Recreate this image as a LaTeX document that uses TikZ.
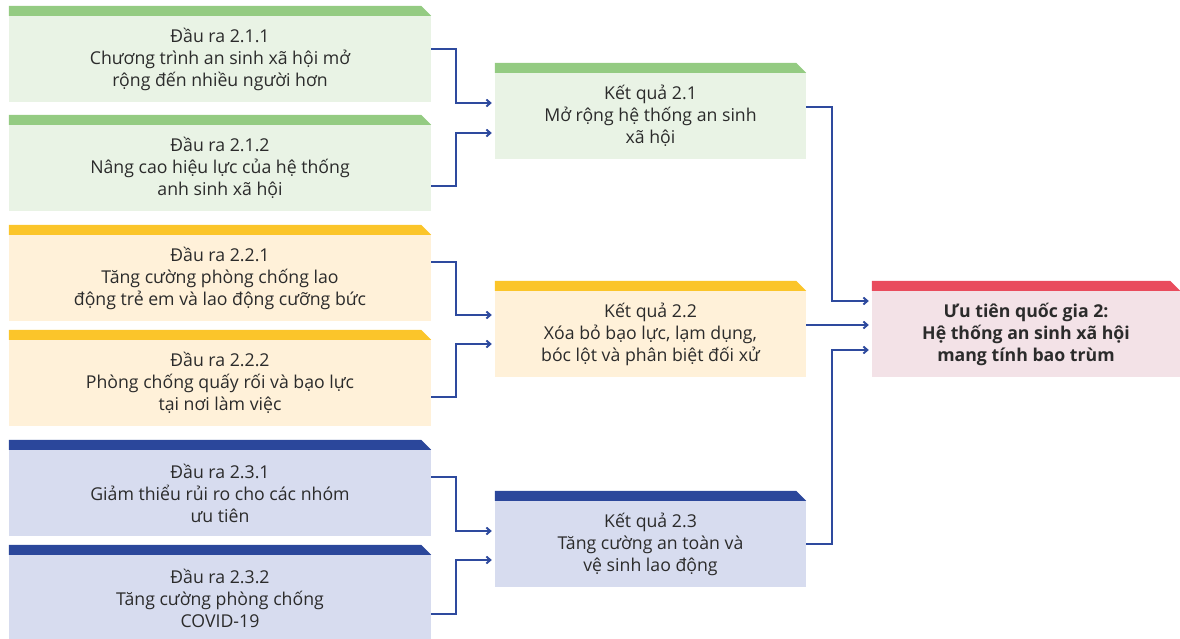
\documentclass[tikz,border=0pt]{standalone}
\usepackage{fontspec}
\setmainfont{Open Sans}
\usetikzlibrary{arrows.meta}

\definecolor{grnbar}{HTML}{94CB82}
\definecolor{grnbody}{HTML}{E9F3E5}
\definecolor{ylwbar}{HTML}{FBC52A}
\definecolor{ylwbody}{HTML}{FFF1D9}
\definecolor{blubar}{HTML}{2B479B}
\definecolor{blubody}{HTML}{D7DCEF}
\definecolor{redbar}{HTML}{E94C5D}
\definecolor{redbody}{HTML}{F3E2E7}
\definecolor{linkblue}{HTML}{2E4A9E}
\definecolor{txtgray}{HTML}{2B2B2B}

\tikzset{
 card/.style={fill=#1, inner sep=0pt, align=center, minimum height=86pt,
   font=\fontsize{17.7}{22}\selectfont, text=txtgray},
 outcard/.style={card=#1, minimum width=422pt},
 rescard/.style={card=#1, minimum width=311pt},
 link/.style={draw=linkblue, line width=1.9pt, -{Straight Barb[length=4pt,width=7pt]}, shorten >=3pt}
}

\begin{document}
\begin{tikzpicture}[x=1pt, y=-1pt]
\useasboundingbox (0,0) rectangle (1180,639);
% dau ra
\node[outcard=grnbody] (o211) at (220,59) {Đầu ra 2.1.1\\Chương trình an sinh xã hội mở\\rộng đến nhiều người hơn};
\node[outcard=grnbody] (o212) at (220,168) {Đầu ra 2.1.2\\Nâng cao hiệu lực của hệ thống\\anh sinh xã hội};
\node[outcard=ylwbody] (o221) at (220,278) {Đầu ra 2.2.1\\Tăng cường phòng chống lao\\động trẻ em và lao động cưỡng bức};
\node[outcard=ylwbody] (o222) at (220,383) {Đầu ra 2.2.2\\Phòng chống quấy rối và bạo lực\\tại nơi làm việc};
\node[outcard=blubody] (o231) at (220,493) {Đầu ra 2.3.1\\Giảm thiểu rủi ro cho các nhóm\\ưu tiên};
\node[outcard=blubody] (o232) at (220,598) {Đầu ra 2.3.2\\Tăng cường phòng chống\\COVID-19};
% ket qua
\node[rescard=grnbody] (k21) at (650.5,116) {Kết quả 2.1\\Mở rộng hệ thống an sinh\\xã hội};
\node[rescard=ylwbody] (k22) at (650.5,334) {Kết quả 2.2\\Xóa bỏ bạo lực, lạm dụng,\\bóc lột và phân biệt đối xử};
\node[rescard=blubody] (k23) at (650.5,544) {Kết quả 2.3\\Tăng cường an toàn và\\vệ sinh lao động};
% uu tien
\node[card=redbody, minimum width=308pt, font=\fontsize{17.7}{22}\selectfont\bfseries] (ut2) at (1026,334) {Ưu tiên quốc gia 2:\\Hệ thống an sinh xã hội\\mang tính bao trùm};

\foreach \n/\c in {o211/grnbar, o212/grnbar, o221/ylwbar, o222/ylwbar, o231/blubar, o232/blubar, k21/grnbar, k22/ylwbar, k23/blubar, ut2/redbar}
 \fill[\c] (\n.north west) -- (\n.north east) -- ++(-10,-10) -| (\n.north west) -- cycle;

\draw[link] ([yshift=10pt]o211.east) -- ++(25,0) |- ([yshift=13pt]k21.west);
\draw[link] ([yshift=-18pt]o212.east) -- ++(25,0) |- ([yshift=-17pt]k21.west);
\draw[link] ([yshift=16pt]o221.east) -- ++(25,0) |- ([yshift=19pt]k22.west);
\draw[link] ([yshift=-14pt]o222.east) -- ++(25,0) |- ([yshift=-10pt]k22.west);
\draw[link] ([yshift=16pt]o231.east) -- ++(25,0) |- ([yshift=13pt]k23.west);
\draw[link] ([yshift=-16pt]o232.east) -- ++(25,0) |- ([yshift=-16pt]k23.west);

\draw[link] ([yshift=9pt]k21.east) -- ++(26,0) |- ([yshift=33pt]ut2.west);
\draw[link] ([yshift=9pt]k22.east) -- ([yshift=9pt]ut2.west);
\draw[link] (k23.east) -- ++(26,0) |- ([yshift=-16pt]ut2.west);
\end{tikzpicture}
\end{document}
